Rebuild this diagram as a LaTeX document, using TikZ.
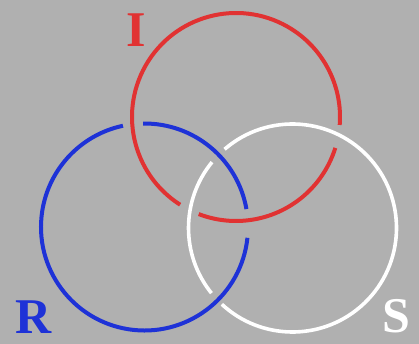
\documentclass[tikz,border=0pt]{standalone}
\usepackage{fontspec}
\setmainfont{Liberation Serif}
\definecolor{bg}{RGB}{176,176,176}
\definecolor{ringred}{RGB}{225,50,50}
\definecolor{ringblue}{RGB}{30,50,215}
\begin{document}
\begin{tikzpicture}[x=1pt,y=-1pt,
  ring/.style={line width=4pt},
  lbl/.style={font=\bfseries\fontsize{50}{50}\selectfont, inner sep=0pt, anchor=base}]
\fill[bg] (0,0) rectangle (419,344);
\useasboundingbox (0,0) rectangle (419,344);
\coordinate (cI) at (236,117);
\coordinate (cR) at (144.5,227);
\coordinate (cS) at (292.5,228);
\def\rr{104}
% red ring (I): under white
\draw[ring,ringred] (cI) ++(17.3:\rr) arc[start angle=17.3,end angle=111,radius=\rr];
\draw[ring,ringred] (cI) ++(122.5:\rr) arc[start angle=122.5,end angle=364.4,radius=\rr];
% blue ring (R): under red
\draw[ring,ringblue] (cR) ++(6:103.5) arc[start angle=6,end angle=258,radius=103.5];
\draw[ring,ringblue] (cR) ++(269.2:103.5) arc[start angle=269.2,end angle=350,radius=103.5];
% white ring (S): under blue
\draw[ring,white,line width=3.6pt] (cS) ++(229.2:\rr) arc[start angle=229.2,end angle=492.8,radius=\rr];
\draw[ring,white,line width=3.6pt] (cS) ++(141.2:\rr) arc[start angle=141.2,end angle=219.3,radius=\rr];
\node[lbl,text=ringred] (I) at (136,47) {I};
\node[lbl,text=ringblue] (R) at (33.5,333) {R};
\node[lbl,text=white] (S) at (396,332) {S};
\end{tikzpicture}
\end{document}
